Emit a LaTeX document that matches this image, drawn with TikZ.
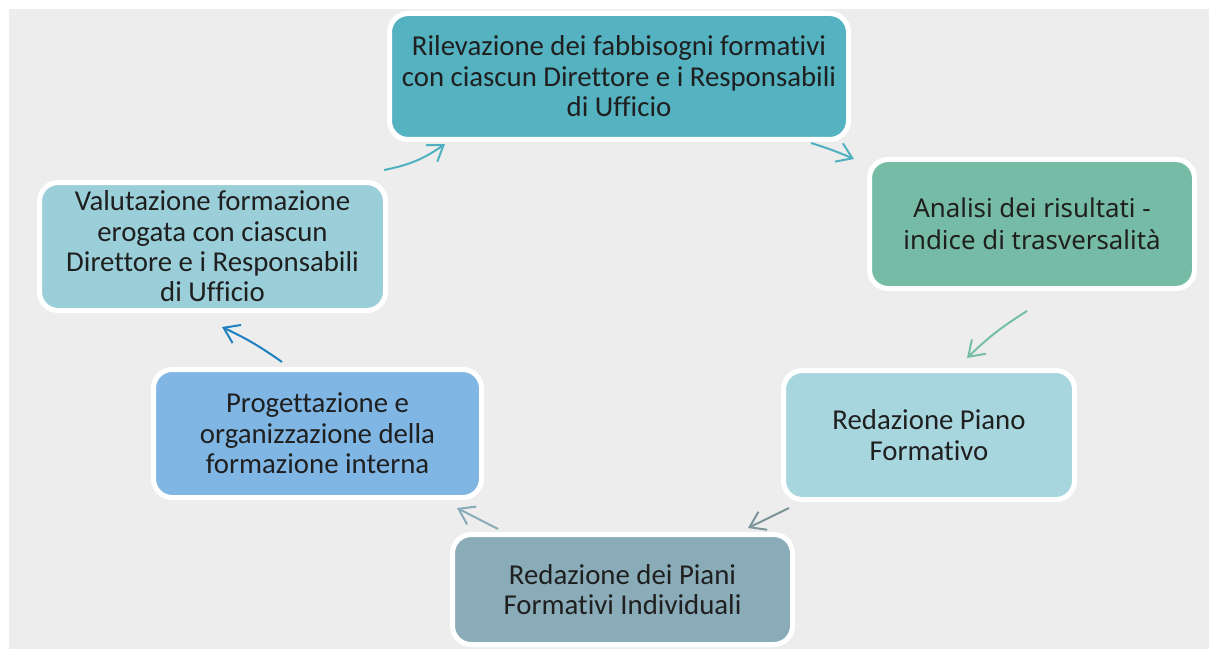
\documentclass[tikz,border=0pt]{standalone}
\usepackage{fontspec}
\setmainfont{Carlito}[Ligatures=NoCommon]
\newfontfamily\aptos{Noto Sans}[Ligatures=NoCommon]
\usetikzlibrary{arrows.meta}
\definecolor{bg}{HTML}{EDEDED}
\definecolor{txt}{HTML}{1F1F1F}
\definecolor{cTop}{HTML}{54B2C1}
\definecolor{cAna}{HTML}{75BBA6}
\definecolor{cRed}{HTML}{A7D6DF}
\definecolor{cInd}{HTML}{89ACB8}
\definecolor{cPro}{HTML}{80B6E4}
\definecolor{cVal}{HTML}{9ACFD9}
\definecolor{aTeal}{HTML}{4FB0C0}
\definecolor{aGreen}{HTML}{76BFA6}
\definecolor{aGrey}{HTML}{7A9498}
\definecolor{aInd}{HTML}{89ACB8}
\definecolor{aBlue}{HTML}{1F80C0}
\tikzset{
  box/.style={draw=white, line width=3.75pt, rounded corners=14pt, align=center,
    text=txt, font=\fontsize{21.6}{22.8}\selectfont, inner sep=0pt},
  arr/.style={line width=1.5pt, -{Straight Barb[length=11pt,width=15pt]}},
}
\begin{document}
\begin{tikzpicture}[x=0.75pt,y=-0.75pt]
\useasboundingbox (0,0) rectangle (1209,649);
\fill[bg] (9,9) rectangle (1209,649);
\node[box, fill=cTop, minimum width=344.25pt, minimum height=94.5pt] (ril) at (619,76.5)
  {Rilevazione dei fabbisogni formativi\\con ciascun Direttore e i Responsabili\\di Ufficio};
\node[box, fill=cAna, minimum width=243.75pt, minimum height=96.75pt, font=\aptos\fontsize{19.4}{24}\selectfont] (ana) at (1032,224)
  {Analisi dei risultati -\\indice di trasversalità};
\node[box, fill=cRed, minimum width=218.25pt, minimum height=96.75pt] (red) at (929,435)
  {Redazione Piano\\Formativo};
\node[box, fill=cInd, minimum width=255pt, minimum height=82.5pt] (ind) at (622.5,589.5)
  {Redazione dei Piani\\Formativi Individuali};
\node[box, fill=cPro, minimum width=246pt, minimum height=96pt] (pro) at (317.5,433.5)
  {Progettazione e\\organizzazione della\\formazione interna};
\node[box, fill=cVal, minimum width=259.5pt, minimum height=96pt] (val) at (212.5,246.5)
  {Valutazione formazione\\erogata con ciascun\\Direttore e i Responsabili\\di Ufficio};
\coordinate (a1s) at (384,170); \coordinate (a1e) at (445,144);
\coordinate (a2s) at (811,143); \coordinate (a2e) at (854,159);
\coordinate (a3s) at (1027,311); \coordinate (a3e) at (967,358);
\coordinate (a4s) at (789,508); \coordinate (a4e) at (748,528);
\coordinate (a5s) at (498,529); \coordinate (a5e) at (457,508);
\coordinate (a6s) at (282,362); \coordinate (a6e) at (222,327);
\draw[arr, aTeal] (a1s) to[bend right=12] (a1e);
\draw[arr, aTeal] (a2s) to[bend left=3] (a2e);
\draw[arr, aGreen] (a3s) to[bend right=6] (a3e);
\draw[arr, aGrey] (a4s) -- (a4e);
\draw[arr, aInd] (a5s) -- (a5e);
\draw[arr, aBlue] (a6s) to[bend right=5] (a6e);
\end{tikzpicture}
\end{document}
